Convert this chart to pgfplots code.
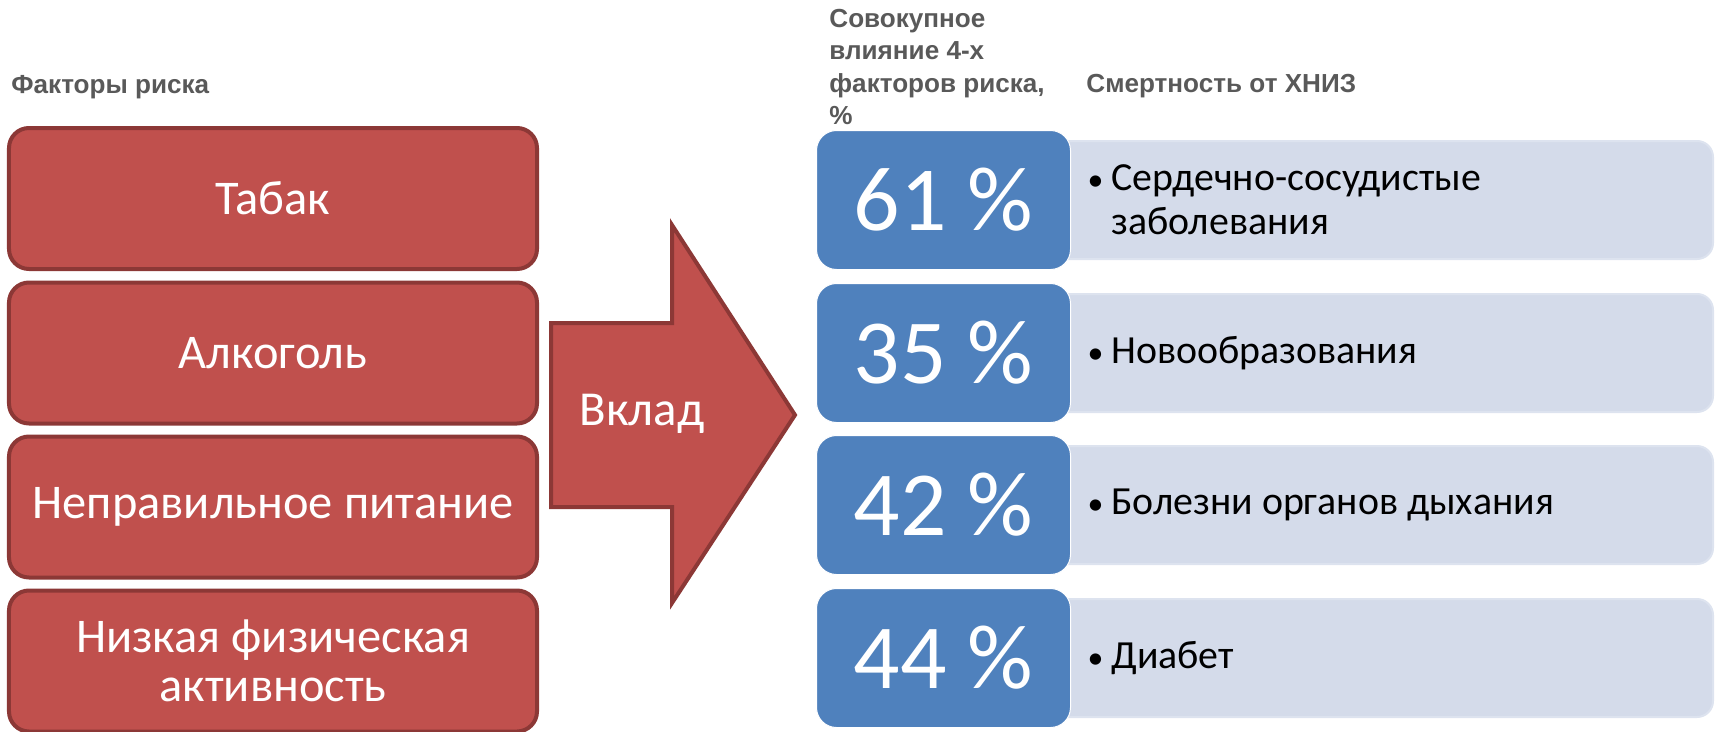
\documentclass[border=0pt]{standalone}
\usepackage{fontspec}
\setmainfont{Carlito}
\newfontfamily\headfont{Liberation Sans}
\usepackage{pgfplots}
\pgfplotsset{compat=1.18}
\usepackage{pgfplotstable}
\definecolor{redfill}{HTML}{C0504D}
\definecolor{redline}{HTML}{8C3836}
\definecolor{bluefill}{HTML}{4F81BD}
\definecolor{lightfill}{HTML}{D4DBEA}
\definecolor{lightline}{HTML}{DDE3EF}
\definecolor{headgray}{HTML}{595959}

\pgfplotstableread{
x y pct
943.5 200 61
943.5 353 35
943.5 505 42
943.5 658 44
}\impact

\pgfplotstableread{
x y
1382 200
1382 353
1382 505
1382 658
}\lightboxes

\begin{document}
\begin{tikzpicture}
\begin{axis}[name=ax, width=859.5bp, height=366bp, scale only axis,
  xmin=0, xmax=1719, ymin=0, ymax=732, y dir=reverse,
  axis lines=none, clip=false]

% risk factor boxes
\addplot[draw=none, mark=none, point meta=explicit symbolic, nodes near coords,
  every node near coord/.append style={anchor=center, rectangle, rounded corners=10bp,
    fill=redfill, draw=redline, line width=2bp, minimum width=264bp, minimum height=70.5bp,
    inner sep=0pt, text=white, align=center, font=\fontsize{24.3}{24.5}\selectfont}]
  coordinates {(273,198.5) [Табак] (273,353) [Алкоголь] (273,507) [Неправильное питание]
   (273,661) [{Низкая физическая\\активность}]};

% arrow
\addplot[fill=redfill, draw=redline, line width=2bp, mark=none, line join=miter]
  coordinates {(551,323) (672,323) (672,225) (795,415) (672,603) (672,507) (551,507)} -- cycle;

% light boxes
\addplot[draw=none, mark=none, nodes near coords={},
  every node near coord/.append style={anchor=center, rectangle, rounded corners=8bp,
    fill=lightfill, draw=lightline, line width=1bp, minimum width=331bp, minimum height=59bp,
    inner sep=0pt}]
  table[x=x, y=y] {\lightboxes};

% blue boxes with percentages
\addplot[draw=none, mark=none, point meta=explicit symbolic,
  nodes near coords={\pgfplotspointmeta~\%},
  every node near coord/.append style={anchor=center, rectangle, rounded corners=10bp,
    fill=bluefill, draw=white, line width=0.5bp, minimum width=127bp, minimum height=69.5bp,
    inner sep=0pt, text=white, font=\fontsize{46}{46}\selectfont}]
  table[x=x, y=y, meta=pct] {\impact};

% disease labels
\addplot[draw=none, mark=none, point meta=explicit symbolic, nodes near coords,
  every node near coord/.append style={anchor=west, inner sep=0pt, align=left,
    text=black, font=\fontsize{20}{22}\selectfont}]
  coordinates {(1111,200) [{\llap{\fontsize{16}{16}\selectfont•\hspace{4bp}}Сердечно-сосудистые\\заболевания}]
   (1111,353) [{\llap{\fontsize{16}{16}\selectfont•\hspace{4bp}}Новообразования}]
   (1111,505) [{\llap{\fontsize{16}{16}\selectfont•\hspace{4bp}}Болезни органов дыхания}]
   (1111,658) [{\llap{\fontsize{16}{16}\selectfont•\hspace{4bp}}Диабет}]};

\node[anchor=center, inner sep=0pt, text=white, font=\fontsize{24.5}{25}\selectfont]
  at (axis cs:642,414) {Вклад};

\tikzset{hd/.style={anchor=base west, inner sep=0pt, text=headgray,
  font=\headfont\bfseries\fontsize{13.1}{16}\selectfont}}
\node[hd] at (axis cs:11,93) {Факторы риска};
\node[hd] at (axis cs:829,28) {Совокупное};
\node[hd] at (axis cs:829,60) {влияние 4-х};
\node[hd] at (axis cs:829,92) {факторов риска,};
\node[hd] at (axis cs:829,124) {\%};
\node[hd] at (axis cs:1086,92) {Смертность от ХНИЗ};
\end{axis}
\pgfresetboundingbox
\path[use as bounding box] (ax.south west) rectangle (ax.north east);
\end{tikzpicture}
\end{document}
